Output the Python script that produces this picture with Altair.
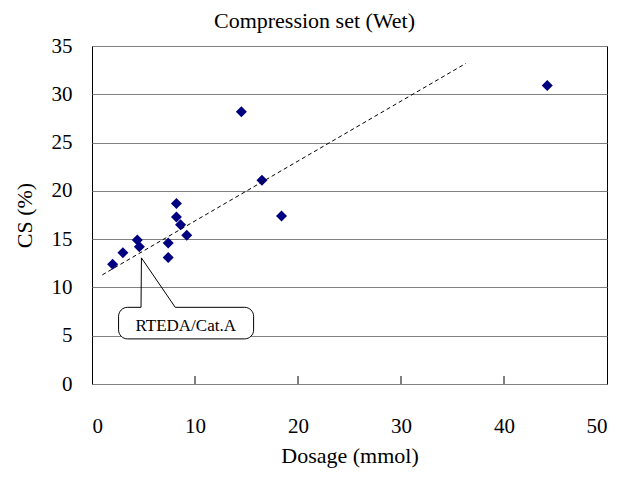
import altair as alt
import pandas as pd

# Data
dosage = [2.0, 3.0, 4.4, 4.6, 7.4, 7.4, 8.2, 8.2, 8.6, 9.2, 14.5, 16.5, 18.4, 44.2]
cs = [12.4, 13.6, 14.9, 14.2, 14.6, 13.1, 18.7, 17.3, 16.5, 15.4, 28.2, 21.1, 17.4, 30.9]

trend_x = [1.0, 36.3]
trend_y = [11.3, 33.2]

x_tick_values = [10, 20, 30, 40]
y_tick_values = [0, 5, 10, 15, 20, 25, 30, 35]

callout_label = "RTEDA/Cat.A"
callout_box_x = [2.58, 15.69]
callout_box_y = [4.67, 7.94]
callout_text_pos = [9.1, 5.45]
pointer_x = [4.76, 4.80, 8.08]
pointer_y = [7.94, 13.06, 7.94]

FONT = "Liberation Serif"
W, H = 515, 338

xs = alt.Scale(domain=[0, 50], nice=False, zero=True)
ys = alt.Scale(domain=[0, 35], nice=False, zero=True)

pts = pd.DataFrame({"Dosage": dosage, "CS": cs})
trend = pd.DataFrame({"x": trend_x, "y": trend_y})
ticks = pd.DataFrame({"x": x_tick_values})
box = pd.DataFrame({"x": [callout_box_x[0]], "x2": [callout_box_x[1]],
                    "y": [callout_box_y[0]], "y2": [callout_box_y[1]]})
patch = pd.DataFrame({"x": [pointer_x[0]], "x2": [pointer_x[2]], "y": [pointer_y[0]]})
pointer = pd.DataFrame({"x": pointer_x, "y": pointer_y, "o": [0, 1, 2]})
label = pd.DataFrame({"x": [callout_text_pos[0]], "y": [callout_text_pos[1]], "t": [callout_label]})

base_x = alt.X("Dosage:Q", scale=xs, title="Dosage (mmol)",
               axis=alt.Axis(values=[0, 10, 20, 30, 40, 50], grid=False, ticks=False, tickSize=0,
                             domain=False, labelPadding=31, titlePadding=9, format="d"))
base_y = alt.Y("CS:Q", scale=ys, title="CS (%)",
               axis=alt.Axis(values=y_tick_values, grid=True, gridColor="#808080", gridWidth=1,
                             ticks=False, tickSize=0, domain=False, labelPadding=20,
                             titlePadding=15, format="d"))

points = alt.Chart(pts).mark_point(shape="diamond", filled=True, size=121, color="#000080",
                                   opacity=1).encode(x=base_x, y=base_y)

trend_line = alt.Chart(trend).mark_line(color="black", strokeDash=[4, 3], strokeWidth=1).encode(
    x=alt.X("x:Q", scale=xs), y=alt.Y("y:Q", scale=ys))

tick_marks = alt.Chart(ticks).mark_rule(color="black", strokeWidth=1).encode(
    x=alt.X("x:Q", scale=xs), y=alt.value(H - 8), y2=alt.value(H))

box_mark = alt.Chart(box).mark_rect(fill="white", stroke="black", strokeWidth=1,
                                    cornerRadius=9).encode(
    x=alt.X("x:Q", scale=xs), x2="x2:Q", y=alt.Y("y:Q", scale=ys), y2="y2:Q")

patch_mark = alt.Chart(patch).mark_rule(color="white", strokeWidth=3).encode(
    x=alt.X("x:Q", scale=xs), x2="x2:Q", y=alt.Y("y:Q", scale=ys))

pointer_mark = alt.Chart(pointer).mark_line(color="black", strokeWidth=1).encode(
    x=alt.X("x:Q", scale=xs), y=alt.Y("y:Q", scale=ys), order="o:Q")

label_mark = alt.Chart(label).mark_text(font=FONT, fontSize=17, color="black",
                                        baseline="alphabetic", align="center").encode(
    x=alt.X("x:Q", scale=xs), y=alt.Y("y:Q", scale=ys), text="t:N")

chart = alt.layer(points, trend_line, tick_marks, box_mark, patch_mark, pointer_mark,
                  label_mark).properties(
    width=W, height=H,
    background="white",
    title=alt.TitleParams("Compression set (Wet)", font=FONT, fontSize=22, fontWeight="normal",
                          color="black", anchor="middle", dx=-35, offset=2),
    autosize=alt.AutoSizeParams(type="none"),
    padding={"left": 84, "top": 38, "right": 10, "bottom": 88},
).configure_view(stroke="black", strokeWidth=1).configure_axis(
    labelFont=FONT, labelFontSize=21, labelColor="black",
    titleFont=FONT, titleFontSize=22, titleFontWeight="normal", titleColor="black",
)

chart.save("out.html", embed_options={"renderer": "svg", "actions": False})
